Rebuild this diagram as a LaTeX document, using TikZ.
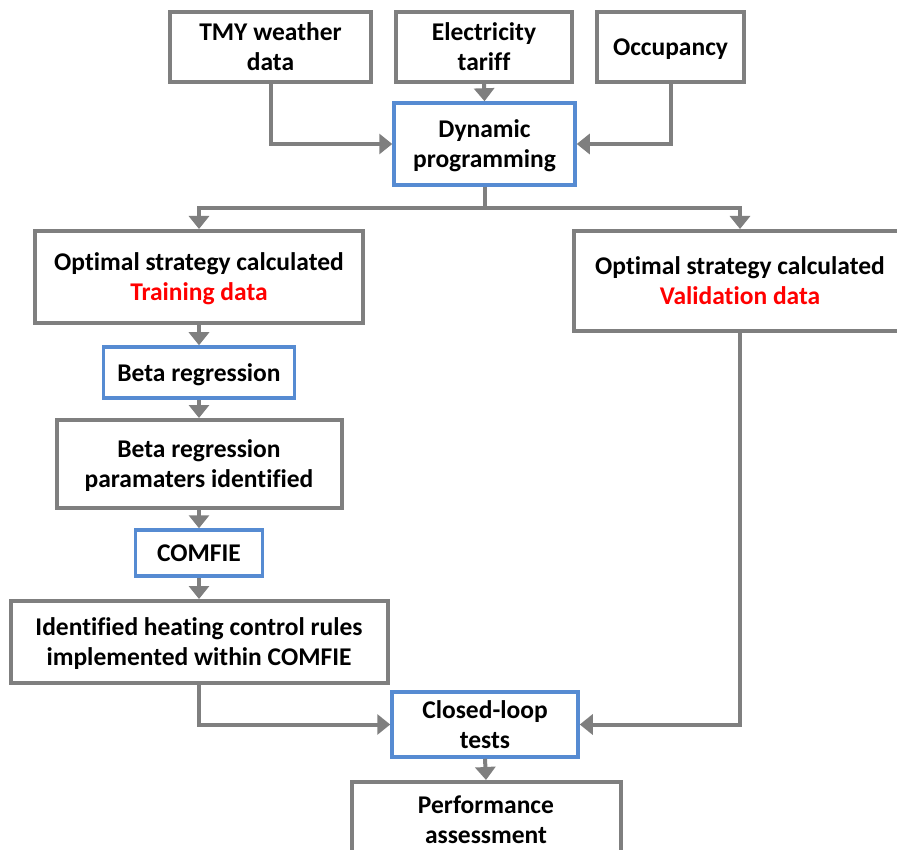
\documentclass[tikz,border=0pt]{standalone}
\usepackage{fontspec}
\setmainfont{Carlito}[Ligatures=NoCommon]
\usetikzlibrary{arrows.meta}
\definecolor{boxgray}{RGB}{127,127,127}
\definecolor{boxblue}{RGB}{86,139,210}
\definecolor{txtred}{RGB}{255,0,0}
\begin{document}
\begin{tikzpicture}[x=1pt,y=-1pt,
  base/.style={rectangle, fill=white, align=center, inner sep=0pt, text depth=0pt,
    font=\fontsize{25.5}{30}\selectfont\bfseries},
  graybox/.style={base, draw=boxgray, line width=4pt},
  bluebox/.style={base, draw=boxblue, line width=3.5pt},
  arr/.style={draw=boxgray, line width=4pt,
    -{Triangle[width=20pt,length=13pt]}},
  ln/.style={draw=boxgray, line width=4pt}]
\useasboundingbox (0,0) rectangle (897,850);
\node[graybox, minimum width=201pt, minimum height=70pt] (tmy) at (270.5,47) {TMY weather\\data};
\node[graybox, minimum width=176pt, minimum height=70pt] (elec) at (484,47) {Electricity\\tariff};
\node[graybox, minimum width=147pt, minimum height=70pt] (occ) at (670.5,47) {Occupancy};
\node[bluebox, minimum width=181pt, minimum height=82pt] (dp) at (484.5,144) {Dynamic\\programming};
\node[graybox, minimum width=328pt, minimum height=92pt] (train) at (199,277) {Optimal strategy calculated\\\textcolor{txtred}{Training data}};
\node[graybox, minimum width=332pt, minimum height=100pt] (val) at (740,281) {Optimal strategy calculated\\\textcolor{txtred}{Validation data}};
\node[bluebox, minimum width=191pt, minimum height=51pt] (beta) at (199,372.5) {Beta regression};
\node[graybox, minimum width=285pt, minimum height=88pt] (betap) at (199,464) {Beta regression\\paramaters identified};
\node[bluebox, minimum width=127pt, minimum height=46pt] (comfie) at (199,553) {COMFIE};
\node[graybox, minimum width=377pt, minimum height=82pt] (ident) at (199,642) {Identified heating control rules\\implemented within COMFIE};
\node[bluebox, minimum width=186pt, minimum height=65pt] (closed) at (485,724.5) {Closed-loop\\tests};
\node[graybox, minimum width=269pt, minimum height=80pt] (perf) at (486,822) {};
\node[base, fill=none] (perft) at (486,820) {Performance\\assessment};
\coordinate (split) at (484.5,208);
\draw[arr] (tmy.south) |- (dp.west);
\draw[arr] (elec.south) -- (dp.north);
\draw[arr] (occ.south) |- (dp.east);
\draw[ln] (dp.south) -- (split);
\draw[arr] (split) -| (train.north);
\draw[arr] (split) -| (val.north);
\draw[arr] (train.south) -- (beta.north);
\draw[arr] (beta.south) -- (betap.north);
\draw[arr] (betap.south) -- (comfie.north);
\draw[arr] (comfie.south) -- (ident.north);
\draw[arr] (ident.south) |- (closed.west);
\draw[arr] (val.south) |- (closed.east);
\draw[arr] (closed.south) -- (perf.north);
\end{tikzpicture}
\end{document}
